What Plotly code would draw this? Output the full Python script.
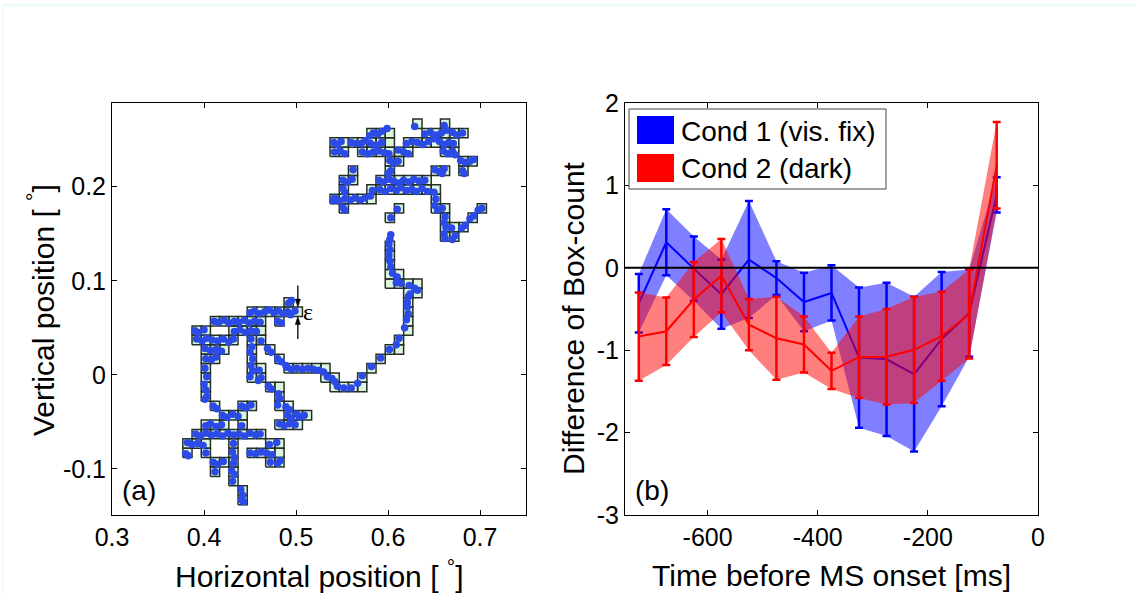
import plotly.graph_objects as go

W, H = 1135, 594
FONT = "Liberation Sans, Arial, Helvetica, sans-serif"

# ---------------- Panel (a): box-counting grid ----------------
EPS = 0.01          # box size (deg)
X0 = 0.377          # left edge of grid column 0 (deg)
Y0 = -0.138         # bottom edge of grid row 0 (deg)

# occupied boxes: row index -> list of column indices
box_rows = [40, 39, 38, 37, 36, 35, 34, 33, 32, 31, 30, 29, 28, 27, 26, 25, 24, 23, 22, 21,
            20, 19, 18, 17, 16, 15, 14, 13, 12, 11, 10, 9, 8, 7, 6, 5, 4, 3, 2, 1, 0]
box_cols = [
    [25, 28],
    [20, 21, 22, 26, 27, 28, 29, 30],
    [16, 17, 18, 19, 20, 21, 22, 24, 25, 26, 27, 28, 29],
    [16, 17, 19, 20, 21, 22, 23, 24, 28, 29],
    [22, 23, 30, 31],
    [18, 22, 27, 28, 30],
    [17, 18, 21, 22, 23, 24, 25, 26],
    [17, 20, 21, 22, 23, 24, 25, 26, 27],
    [16, 17, 18, 19, 20, 27],
    [17, 23, 27, 28, 32],
    [22, 28, 31],
    [28, 29, 30],
    [28, 29],
    [22],
    [22],
    [22],
    [22, 23],
    [22, 23, 24, 25],
    [24, 25],
    [11, 24],
    [7, 8, 9, 10, 11, 12, 24],
    [3, 4, 5, 6, 7, 8, 10, 24],
    [1, 2, 5, 6, 7, 8, 24],
    [1, 2, 3, 4, 5, 7, 8, 23],
    [2, 3, 4, 7, 9, 22, 23],
    [2, 3, 7, 10, 21],
    [2, 7, 8, 11, 12, 13, 14, 15, 20],
    [2, 7, 8, 15, 16, 19],
    [2, 9, 10, 16, 17, 18, 19],
    [2, 10],
    [3, 6, 7, 10, 11],
    [4, 5, 6, 11, 12, 13],
    [2, 3, 4, 6, 10, 11, 12],
    [1, 2, 3, 4, 5, 6, 7, 8],
    [0, 1, 2, 5, 9, 10],
    [0, 2, 5, 7, 8, 9, 10],
    [3, 4, 5, 9, 10],
    [3, 5],
    [5],
    [6],
    [6],
]

# eye-position samples, in grid units (column, row)
dots = [
    # middle path
    (11.3, 14.6), (11.8, 14.4), (12.4, 14.5), (13.0, 14.4), (13.6, 14.5), (14.2, 14.4),
    (14.8, 14.3), (15.3, 14.1), (15.7, 13.6), (16.2, 13.4), (16.5, 13.1), (16.8, 12.6),
    (17.5, 12.4), (18.3, 12.4), (19.0, 12.9), (19.5, 13.7), (20.5, 14.7), (21.5, 15.6),
    (22.45, 16.5), (23.2, 17.0), (23.5, 17.7), (24.1, 18.8), (24.3, 19.65), (24.5, 20.3),
    (24.4, 21.0), (24.4, 21.5), (24.5, 22.1), (24.7, 22.4), (25.2, 23.0), (25.5, 22.8),
    (24.6, 23.3), (23.7, 23.55), (23.2, 23.6), (23.3, 24.2), (22.8, 24.6), (22.6, 25.3),
    (22.5, 25.9), (22.4, 26.5), (22.5, 27.1), (22.4, 27.7), (22.5, 28.2), (22.6, 28.7),
    (22.6, 30.5), (23.3, 31.4),
    # top cluster
    (25.2, 40.2), (28.4, 40.3), (22.2, 40.0),
    (16.4, 38.5), (16.8, 38.3), (17.2, 38.6), (16.5, 37.5), (17.1, 37.6), (17.6, 37.3),
    (18.3, 38.5), (18.8, 38.4), (19.4, 38.4), (19.8, 38.7), (20.3, 39.2), (20.7, 39.5),
    (21.2, 39.4), (21.6, 39.7), (20.4, 38.4), (21.0, 38.2), (21.6, 38.5), (19.5, 37.5),
    (20.1, 37.3), (20.7, 37.5), (21.3, 37.6), (21.9, 37.4), (22.4, 37.3), (22.5, 36.6),
    (22.9, 36.3), (23.4, 36.5), (22.6, 35.5), (22.3, 35.2), (23.4, 37.7), (24.0, 37.5),
    (24.5, 37.3), (24.3, 38.4), (24.9, 38.6), (25.5, 38.5), (26.1, 38.3), (26.7, 38.6),
    (27.3, 38.9), (27.9, 38.6), (28.4, 38.3), (28.9, 38.5), (29.4, 38.4), (26.3, 39.4),
    (26.9, 39.6), (27.5, 39.3), (28.1, 39.5), (28.7, 39.8), (29.3, 39.6), (29.8, 39.3),
    (30.4, 39.5), (28.3, 37.6), (28.8, 37.3), (29.3, 37.6), (29.6, 37.2), (30.2, 36.6),
    (30.7, 36.4), (31.2, 36.5), (31.6, 36.7), (30.4, 35.5), (30.6, 35.2), (27.4, 35.6),
    (27.9, 35.4), (28.4, 35.7), (28.2, 35.2),
    (21.3, 34.5), (21.8, 34.3), (22.4, 34.6), (22.9, 34.4), (23.5, 34.2), (24.0, 34.5),
    (24.6, 34.3), (25.1, 34.6), (25.7, 34.4), (26.3, 34.5), (21.4, 33.5), (22.0, 33.3),
    (22.6, 33.6), (23.2, 33.4), (23.7, 33.7), (24.3, 33.4), (24.9, 33.5), (25.4, 33.3),
    (26.0, 33.6), (26.6, 33.3), (20.6, 33.4), (27.3, 33.2), (27.5, 32.5), (27.4, 31.8),
    (27.7, 31.3), (28.2, 31.5), (28.5, 30.6), (28.4, 30.0), (28.6, 29.5), (28.4, 28.8),
    (28.5, 28.3), (29.2, 29.4), (29.6, 28.6), (29.3, 28.2), (30.3, 29.4), (30.7, 29.7),
    (31.2, 30.4), (31.6, 30.7), (32.1, 31.3), (32.5, 31.5),
    (18.5, 35.6), (17.4, 34.5), (17.9, 34.3), (18.4, 34.6), (17.4, 33.6), (17.6, 33.2),
    (16.3, 32.3), (16.5, 32.6), (17.0, 32.3), (17.6, 32.5), (18.2, 32.4), (18.7, 32.6),
    (19.3, 32.4), (19.8, 32.6), (20.4, 32.8), (17.4, 31.6), (17.6, 31.3),
    # lower-left cluster
    (7.3, 20.4), (7.8, 20.6), (8.3, 20.3), (8.9, 20.5), (9.4, 20.7), (9.9, 20.4),
    (10.4, 20.6), (10.9, 20.3), (11.4, 20.5), (11.7, 20.2), (11.5, 21.4), (11.8, 21.7),
    (12.2, 20.6), (3.4, 19.5), (3.9, 19.4), (4.5, 19.6), (5.0, 19.3), (5.6, 19.5),
    (6.1, 19.4), (6.7, 19.6), (7.2, 19.3), (7.8, 19.5), (8.4, 19.4), (10.3, 19.5),
    (10.7, 19.3), (1.3, 18.5), (1.7, 18.3), (2.3, 18.6), (1.5, 17.6), (2.1, 17.4),
    (2.6, 17.7), (3.2, 17.5), (3.8, 17.4), (4.4, 17.6), (5.0, 17.3), (5.5, 17.6),
    (5.6, 18.4), (6.2, 18.6), (6.8, 18.3), (7.4, 18.5), (8.0, 18.4), (2.4, 16.6),
    (3.0, 16.4), (3.6, 16.5), (4.2, 16.3), (2.5, 15.5), (3.1, 15.4), (3.6, 15.7),
    (2.4, 14.5), (2.6, 13.6), (2.3, 12.8), (2.5, 12.2), (2.6, 11.5), (2.4, 11.2),
    (3.3, 10.5), (3.7, 10.2), (7.4, 17.6), (7.5, 16.8), (7.3, 16.2), (7.6, 15.5),
    (7.4, 14.8), (7.6, 14.2), (7.3, 13.6), (8.3, 14.3), (8.5, 13.5), (8.2, 13.2),
    (9.3, 12.6), (9.6, 12.3), (10.4, 11.8), (10.5, 11.3), (10.3, 10.6), (11.2, 10.4),
    (11.6, 10.1), (11.4, 9.5), (11.8, 9.2), (12.4, 9.6), (12.7, 9.3), (13.2, 9.5),
    (10.5, 8.6), (11.0, 8.4), (11.6, 8.6), (12.2, 8.5), (8.5, 17.4), (9.2, 16.6),
    (9.6, 16.2), (10.3, 15.5), (10.7, 15.2), (11.2, 14.8), (6.4, 10.5), (6.9, 10.3),
    (7.4, 10.6), (4.3, 9.5), (4.8, 9.3), (5.4, 9.6), (6.0, 9.4), (2.5, 8.4),
    (3.0, 8.6), (3.6, 8.3), (4.2, 8.5), (6.4, 8.4), (1.4, 7.5), (1.9, 7.3),
    (2.5, 7.6), (3.1, 7.4), (3.7, 7.5), (4.3, 7.3), (4.9, 7.6), (5.5, 7.4),
    (6.1, 7.5), (6.7, 7.3), (7.3, 7.6), (7.9, 7.4), (8.4, 7.5), (0.5, 6.6),
    (1.0, 6.4), (1.6, 6.5), (2.2, 6.3), (0.3, 5.4), (0.6, 5.2), (2.5, 5.5),
    (5.5, 6.5), (5.4, 5.6), (5.6, 5.0), (5.5, 4.4), (5.3, 3.6), (5.6, 3.2),
    (5.4, 2.5), (6.3, 1.6), (6.5, 1.0), (6.4, 0.5), (6.6, 0.3), (3.3, 4.5),
    (3.8, 4.3), (4.4, 4.6), (3.5, 3.5), (7.3, 5.5), (7.9, 5.4), (8.5, 5.6),
    (9.1, 5.5), (9.7, 5.3), (9.4, 6.4), (10.2, 6.6), (9.5, 4.5), (10.3, 4.4),
    (10.6, 4.7),
]

# epsilon marker sits on this box (column, row)
EPS_BOX = (12, 20)

# ---------------- Panel (b): difference of box-count ----------------
time_ms = [-725, -675, -625, -575, -525, -475, -425, -375, -325, -275, -225, -175, -125, -75]
cond1_mean = [-0.43, 0.31, -0.01, -0.32, 0.10, -0.125, -0.415, -0.305, -1.09, -1.11, -1.29, -0.865, -0.55, 0.885]
cond1_err = [0.355, 0.40, 0.39, 0.42, 0.71, 0.205, 0.355, 0.335, 0.85, 0.93, 0.94, 0.815, 0.53, 0.215]
cond2_mean = [-0.835, -0.77, -0.385, -0.095, -0.69, -0.855, -0.93, -1.25, -1.085, -1.08, -0.995, -0.83, -0.56, 1.245]
cond2_err = [0.535, 0.41, 0.455, 0.445, 0.31, 0.505, 0.34, 0.22, 0.495, 0.58, 0.645, 0.54, 0.54, 0.525]
legend_labels = ["Cond 1 (vis. fix)", "Cond 2 (dark)"]

fig = go.Figure()

# boxes
bx, by = [], []
for r, cols in zip(box_rows, box_cols):
    for c in cols:
        x0 = X0 + EPS * c
        y0 = Y0 + EPS * r
        bx += [x0, x0 + EPS, x0 + EPS, x0, x0, None]
        by += [y0, y0, y0 + EPS, y0 + EPS, y0, None]
fig.add_trace(go.Scatter(x=bx, y=by, mode="lines", fill="toself", fillcolor="#dcf5dc",
                         line=dict(color="#243024", width=1.5), xaxis="x", yaxis="y",
                         hoverinfo="skip", showlegend=False))
fig.add_trace(go.Scatter(x=[X0 + EPS * u for u, v in dots], y=[Y0 + EPS * v for u, v in dots],
                         mode="markers", marker=dict(size=7.5, color="#2c4be6", line=dict(width=0)),
                         xaxis="x", yaxis="y", hoverinfo="skip", showlegend=False))

# bands + mean lines with error bars
def band(mean, err):
    up = [m + e for m, e in zip(mean, err)]
    lo = [m - e for m, e in zip(mean, err)]
    return time_ms + time_ms[::-1], up + lo[::-1]

for mean, err, fillc, col in [(cond1_mean, cond1_err, "rgba(0,0,255,0.5)", "#0000ff"),
                              (cond2_mean, cond2_err, "rgba(255,0,0,0.5)", "#ff0000")]:
    bxs, bys = band(mean, err)
    fig.add_trace(go.Scatter(x=bxs, y=bys, mode="none", fill="toself", fillcolor=fillc,
                             xaxis="x2", yaxis="y2", hoverinfo="skip", showlegend=False))
    fig.add_trace(go.Scatter(x=time_ms, y=mean, mode="lines", line=dict(color=col, width=2),
                             error_y=dict(type="data", array=err, visible=True, color=col,
                                          thickness=2.5, width=4),
                             xaxis="x2", yaxis="y2", hoverinfo="skip", showlegend=False))

axis_common = dict(showline=True, linecolor="black", linewidth=1, mirror="ticks", ticks="inside",
                   ticklen=5, tickwidth=1, tickcolor="black", showgrid=False, zeroline=False,
                   automargin=False,
                   tickfont=dict(family=FONT, size=25, color="black"), fixedrange=True)
ydom = [1 - 515 / H, 1 - 103 / H]
fig.update_layout(
    width=W, height=H, margin=dict(l=0, r=0, t=0, b=0, autoexpand=False),
    paper_bgcolor="white", plot_bgcolor="white", showlegend=False,
    xaxis=dict(domain=[112 / W, 526 / W], range=[0.3, 0.75], anchor="y",
               tickvals=[0.3, 0.4, 0.5, 0.6, 0.7], ticktext=["0.3", "0.4", "0.5", "0.6", "0.7"],
               **axis_common),
    yaxis=dict(domain=ydom, range=[-0.149, 0.289], anchor="x",
               tickvals=[-0.1, 0, 0.1, 0.2], ticktext=["-0.1", "0", "0.1", "0.2"], **axis_common),
    xaxis2=dict(domain=[625 / W, 1038 / W], range=[-750, 0], anchor="y2",
                tickvals=[-600, -400, -200, 0], ticktext=["-600", "-400", "-200", "0"], **axis_common),
    yaxis2=dict(domain=ydom, range=[-3, 2], anchor="x2",
                tickvals=[-3, -2, -1, 0, 1, 2], ticktext=["-3", "-2", "-1", "0", "1", "2"], **axis_common),
)

def px(x, y):
    return x / W, 1 - y / H

shapes = []
# zero line in panel (b)
shapes.append(dict(type="line", xref="x2 domain", yref="y2", x0=0, x1=1, y0=0, y1=0,
                   line=dict(color="black", width=2), layer="above"))
# legend frame and patches
lx0, ly0 = px(629, 109)
lx1, ly1 = px(886, 189)
shapes.append(dict(type="rect", xref="paper", yref="paper", x0=lx0, x1=lx1, y0=ly1, y1=ly0,
                   line=dict(color="#444444", width=1), fillcolor="white", layer="above"))
for (top, bot), colr in [((116, 144), "#0000ff"), ((154, 182), "#ff0000")]:
    a0, b0 = px(637, top)
    a1, b1 = px(674, bot)
    shapes.append(dict(type="rect", xref="paper", yref="paper", x0=a0, x1=a1, y0=b1, y1=b0,
                       line=dict(width=0), fillcolor=colr, layer="above"))
# faint page frame at top/left
shapes.append(dict(type="line", xref="paper", yref="paper", x0=3 / W, x1=1, y0=1 - 5 / H, y1=1 - 5 / H,
                   line=dict(color="#eefbfb", width=3)))
shapes.append(dict(type="line", xref="paper", yref="paper", x0=3 / W, x1=3 / W, y0=0, y1=1 - 5 / H,
                   line=dict(color="#f3fcfc", width=2)))

# epsilon arrows on box EPS_BOX (line + filled head)
ec, er = EPS_BOX
xa = X0 + EPS * (ec + 0.5)
ytop = Y0 + EPS * (er + 1)
ybot = Y0 + EPS * er
hw, hl = 0.28 * EPS, 0.85 * EPS
for head, tail, sgn in [(ytop, ytop + 2.3 * EPS, 1), (ybot, ybot - 2.4 * EPS, -1)]:
    shapes.append(dict(type="line", xref="x", yref="y", x0=xa, x1=xa, y0=tail, y1=head + sgn * hl * 0.5,
                       line=dict(color="black", width=1.3), layer="above"))
    shapes.append(dict(type="path", xref="x", yref="y", layer="above",
                       path=f"M {xa - hw},{head + sgn * hl} L {xa + hw},{head + sgn * hl} L {xa},{head} Z",
                       fillcolor="black", line=dict(color="black", width=0.5)))
fig.update_layout(shapes=shapes)

ann = []
def text_at(x, y, t, size=30, angle=0, xanchor="center", family=FONT):
    ax_, ay_ = px(x, y)
    ann.append(dict(x=ax_, y=ay_, xref="paper", yref="paper", text=t, showarrow=False,
                    textangle=angle, xanchor=xanchor, yanchor="middle",
                    font=dict(family=family, size=size, color="black")))

text_at(319, 574, "Horizontal position [ <sup>°</sup>]")
text_at(41, 310, "Vertical position [ <sup>°</sup>]", angle=-90)
text_at(831, 575, "Time before MS onset [ms]")
text_at(573, 318, "Difference of Box-count", angle=-90)
text_at(139, 490, "(a)", size=28)
text_at(652, 490, "(b)", size=28)
text_at(679, 131, legend_labels[0], size=28, xanchor="left")
text_at(679, 168, legend_labels[1], size=28, xanchor="left")

ann.append(dict(x=X0 + EPS * (ec + 1.6), y=Y0 + EPS * (er + 0.45), xref="x", yref="y", text="ε",
                showarrow=False, xanchor="center", yanchor="middle",
                font=dict(family="Liberation Serif, DejaVu Serif, serif", size=24, color="black")))
fig.update_layout(annotations=ann)

fig.write_html("out.html")
